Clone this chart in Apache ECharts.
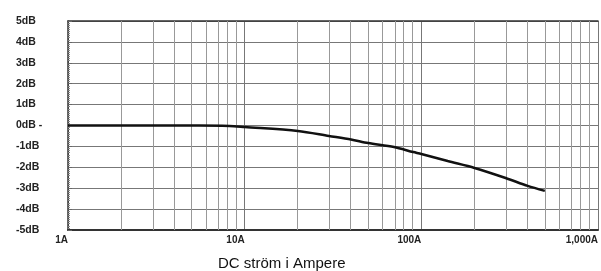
<!DOCTYPE html>
<html>
<head>
<meta charset="utf-8">
<script src="https://cdn.jsdelivr.net/npm/echarts@6/dist/echarts.min.js"></script>
<style>
  html, body { margin: 0; background: #fff; }
  #chart { width: 601px; height: 271px; }
</style>
</head>
<body>
<div id="chart"></div>
<script>
// kurvan (ampere -> dB)
const amps = [1, 5.5, 8.2, 10, 20, 30, 40, 50, 70, 90, 100, 141, 200, 300, 400, 500];
const dB = [0, 0, -0.02, -0.07, -0.26, -0.5, -0.67, -0.84, -1.03, -1.27, -1.36, -1.7, -2.03, -2.51, -2.89, -3.13];
const xTicks = ['1A', '10A', '100A', '1,000A'];
const yTicks = ['-5dB', '-4dB', '-3dB', '-2dB', '-1dB', '0dB -', '1dB', '2dB', '3dB', '4dB', '5dB'];
const minorSteps = [2, 3, 4, 5, 6, 7, 8, 9];
const decades = [1, 10, 100];

// log-skala: x = log10(A)
let minorLines = [];
decades.forEach(d => {
  minorSteps.forEach(k => { minorLines.push({ xAxis: Math.log10(k * d) }) })
});

let chart = echarts.init(document.getElementById('chart'));
let option = {
  animation: false,
  backgroundColor: '#fff',
  title: {
    text: 'DC ström i Ampere',
    left: 213,
    top: 251,
    textStyle: { fontFamily: 'Liberation Sans, Arial', fontSize: 15, fontWeight: 'normal', color: '#111' }
  },
  grid: { left: 68, right: 0, top: 21, bottom: 41 },
  xAxis: [
    {
      type: 'value',
      min: 0,
      max: 3,
      interval: 1,
      axisLine: { show: true, onZero: false, lineStyle: { color: '#333', width: 2 } },
      axisTick: { show: false },
      axisLabel: {
        align: 'right',
        margin: 5,
        fontFamily: 'Liberation Sans, Arial',
        fontSize: 10,
        fontWeight: 'bold',
        color: '#222',
        formatter: v => xTicks[Math.round(v)] || ''
      },
      splitLine: { show: true, lineStyle: { color: '#777', width: 1 } }
    },
    {
      type: 'value',
      position: 'top',
      min: 0,
      max: 3,
      axisLine: { show: true, onZero: false, lineStyle: { color: '#333', width: 1.5 } },
      axisTick: { show: false },
      axisLabel: { show: false },
      splitLine: { show: false }
    }
  ],
  yAxis: {
    type: 'value',
    min: -5,
    max: 5,
    interval: 1,
    axisLine: { show: true, onZero: false, lineStyle: { color: '#333', width: 1.5 } },
    axisTick: { show: true, inside: true, length: 4, lineStyle: { color: '#666' } },
    minorTick: { show: true, splitNumber: 10, length: 2, lineStyle: { color: '#888' } },
    axisLabel: {
      align: 'left',
      margin: 52,
      padding: [0, 0, 6, 0],
      fontFamily: 'Liberation Sans, Arial',
      fontSize: 10.5,
      fontWeight: 'bold',
      color: '#222',
      formatter: v => yTicks[Math.round(v) + 5]
    },
    splitLine: { show: true, lineStyle: { color: '#777', width: 1 } }
  },
  series: [
    {
      type: 'line',
      data: amps.map((a, i) => [Math.log10(a), dB[i]]),
      smooth: 0.3,
      showSymbol: false,
      lineStyle: { color: '#111', width: 2.5 },
      z: 5,
      markLine: {
        silent: true,
        symbol: 'none',
        label: { show: false },
        lineStyle: { color: '#999', type: 'solid', width: 1 },
        data: minorLines,
        z: 1
      }
    }
  ]
};
chart.setOption(option);
</script>
</body>
</html>
